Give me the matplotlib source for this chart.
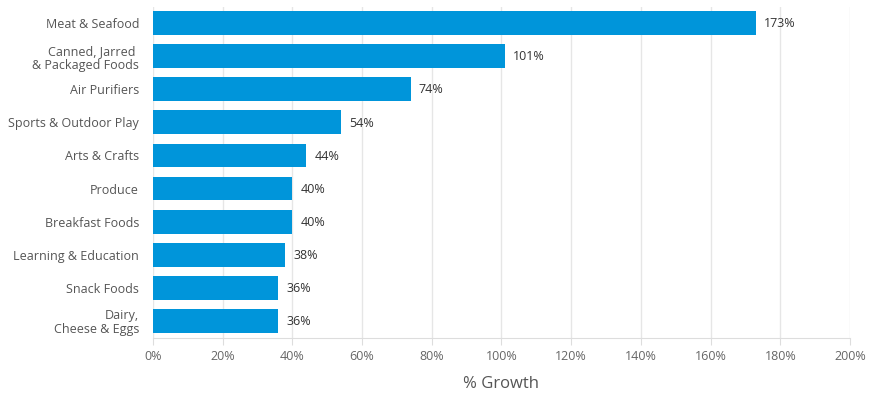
import matplotlib.pyplot as plt
from matplotlib.ticker import FuncFormatter

# --- data ---
categories = ["Meat & Seafood", "Canned, Jarred \n& Packaged Foods", "Air Purifiers",
              "Sports & Outdoor Play", "Arts & Crafts", "Produce", "Breakfast Foods",
              "Learning & Education", "Snack Foods", "Dairy,\nCheese & Eggs"]
growth = [173, 101, 74, 54, 44, 40, 40, 38, 36, 36]
x_ticks = [0, 20, 40, 60, 80, 100, 120, 140, 160, 180, 200]

plt.rcParams['font.family'] = ['Open Sans', 'DejaVu Sans']

fig = plt.figure(figsize=(8.7, 4), dpi=100)
ax = fig.add_axes([153 / 870, 1 - 337.5 / 400, 697 / 870, 331 / 400])

pos = list(range(len(categories)))
ax.barh(pos, growth, height=0.72, color="#0095da", zorder=3)
for p, v in zip(pos, growth):
    ax.text(v + 2.3, p + 0.02, f"{v}%", va="center", ha="left", fontsize=9, color="#333333")

ax.set_ylim(len(categories) - 0.5, -0.5)
ax.set_xlim(0, 200)
ax.set_yticks(pos)
ax.set_yticklabels(categories, fontsize=9, color="#555555", linespacing=1.1)
ax.set_xticks(x_ticks)
ax.xaxis.set_major_formatter(FuncFormatter(lambda v, _: f"{v:.0f}%"))
ax.tick_params(axis="x", labelsize=9, labelcolor="#666666", color="#dddddd", length=5, pad=4)
ax.tick_params(axis="y", length=0, pad=10)

ax.grid(axis="x", color="#e6e6e6", linewidth=1, zorder=0)
for s in ["top", "right", "left"]:
    ax.spines[s].set_visible(False)
ax.spines["bottom"].set_color("#dddddd")

ax.set_xlabel("% Growth", fontsize=12, color="#555555", labelpad=9)

fig.savefig("out.png", dpi=100)
